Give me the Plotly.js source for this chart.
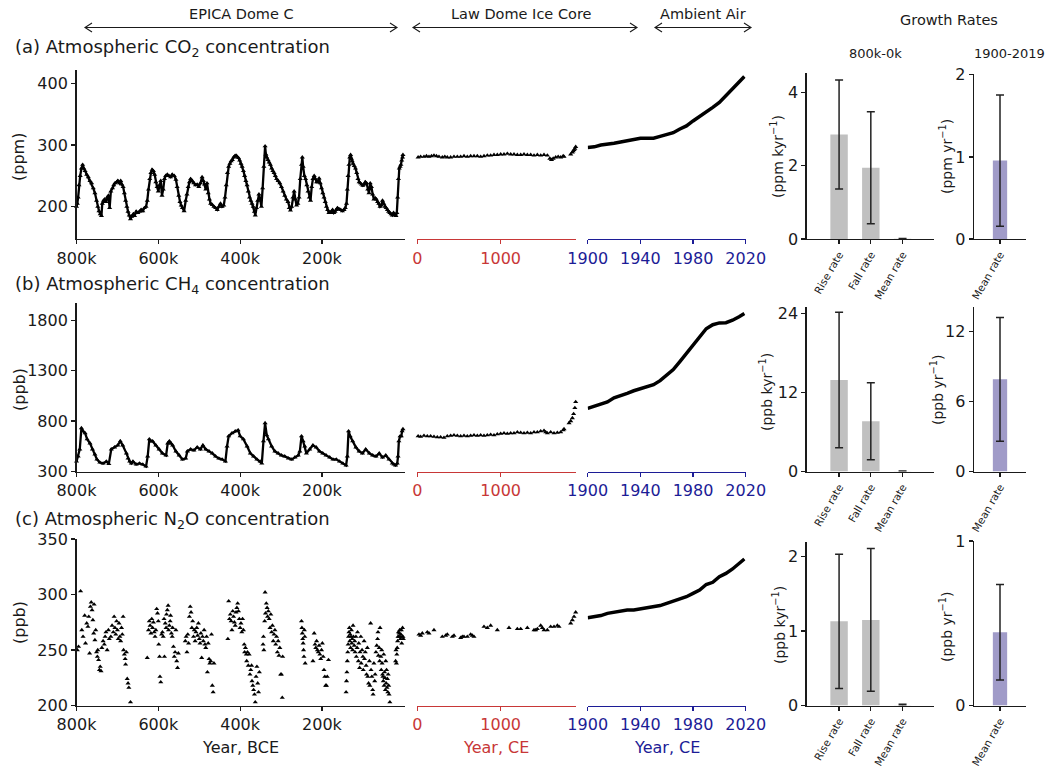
<!DOCTYPE html>
<html><head><meta charset="utf-8">
<script src="https://cdn.plot.ly/plotly-3.0.1.min.js"></script>
<style>html,body{margin:0;padding:0;background:#fff}#chart{width:1047px;height:769px}</style>
</head><body><div id="chart"></div>
<script>
// ---------------- DATA ----------------
// EPICA Dome C CO2 (kyr before present, ppm)
const co2EpicaKyr = [800,798,796,794,791,788,785,782,779,775,771,767,763,759,755,751,748,745,742,739,
737,734,731,728,725,722,719,716,712,709,706,702,699,695,692,689,686,683,680,677,
674,671,668,665,661,658,654,650,646,642,638,634,630,627,624,621,618,615,612,609,
606,603,600,597,594,591,588,585,582,578,574,570,566,561,557,554,550,547,544,541,
537,533,530,527,524,521,517,513,509,505,501,497,493,490,487,484,481,478,475,472,
468,464,460,456,452,448,444,440,437,434,431,428,425,422,419,416,413,410,407,404,
401,398,395,392,389,386,383,380,377,374,371,368,365,363,360,357,354,351,348,345,
342,339,337,335,332,329,326,323,320,317,314,311,307,303,299,295,291,287,283,280,
277,274,271,268,265,262,259,256,253,250,248,246,243,240,237,234,231,228,225,222,
219,216,213,210,207,204,201,198,195,192,189,186,183,180,177,174,171,168,165,162,
158,154,150,146,143,140,138,136,134,132,130,128,126,124,121,118,115,112,109,106,
103,100,97,94,91,88,85,82,79,76,73,70,67,64,61,58,55,52,49,46,
43,40,37,34,31,28,25,22,19,17,15,13,11,9,7,5,3,2];
const co2EpicaPpm = [200,205,215,235,250,262,268,262,258,252,248,242,238,230,222,210,200,193,188,185,
205,210,212,208,215,218,198,225,230,235,238,240,242,238,242,236,232,222,210,200,
192,186,180,184,188,185,192,190,192,195,193,198,200,210,228,245,255,260,258,252,
240,232,225,235,242,218,228,245,250,252,250,248,252,250,244,232,218,208,202,198,
193,210,220,232,240,245,242,238,235,236,232,238,248,242,236,228,238,222,212,205,
203,200,198,195,200,205,200,202,215,235,255,265,270,274,276,280,282,283,281,279,
275,270,265,258,250,242,235,225,215,210,205,200,192,186,198,210,220,212,200,230,
265,298,285,280,276,272,268,262,258,255,250,245,242,238,232,225,218,212,208,198,
194,200,215,225,212,202,205,215,245,268,280,265,250,245,235,225,215,210,232,245,
250,245,240,240,246,238,230,222,215,208,200,195,190,190,192,195,190,192,195,198,
196,195,193,195,198,205,228,250,268,280,284,278,274,270,266,262,255,245,240,238,
236,234,236,240,238,228,222,238,232,220,212,214,212,208,205,200,202,210,205,200,
198,195,192,190,188,186,190,187,185,190,215,245,262,265,268,275,280,284];

// EPICA Dome C CH4 (kyr, ppb)
const ch4EpicaKyr = [800,796,792,788,784,779,774,767,761,755,750,743,735,727,721,715,707,699,693,687,
678,674,670,666,662,654,646,638,630,626,622,618,614,606,598,590,581,577,573,569,
565,557,549,541,533,529,521,513,505,497,491,484,476,468,460,452,444,436,432,428,
420,412,405,400,392,383,375,367,359,351,347,343,339,335,331,323,315,307,299,291,
282,274,266,258,254,250,246,242,238,230,222,214,206,198,190,181,173,165,157,149,
141,138,135,131,125,117,109,101,93,84,76,68,60,52,44,36,28,24,20,16,
14,12,9,6,4,2];
const ch4EpicaPpb = [400,450,520,730,700,680,620,580,520,470,420,390,380,400,375,520,540,560,600,560,
480,430,400,380,400,370,380,370,350,450,620,600,600,560,520,480,460,580,600,580,
560,500,460,420,430,500,520,510,540,520,560,520,500,480,450,430,420,400,550,650,
680,700,710,650,620,550,480,450,420,400,380,600,780,660,620,550,500,480,460,450,
430,420,440,460,500,650,600,550,480,520,560,540,500,480,460,440,420,420,400,380,
360,450,700,650,600,540,500,480,520,480,460,450,480,440,460,420,380,370,360,380,
450,600,650,650,700,720];

// EPICA Dome C N2O (kyr, ppb)
const n2oEpicaKyr = [798,795,790,787,784,780,778,775,772,770,768,766,764,762,760,758,757,755,753,751,749,748,746,744,742,740,
738,735,732,730,728,725,722,720,716,713,710,708,706,704,702,700,698,696,694,692,690,688,686,685,683,681,680,678,676,674,672,668,
627,624,622,620,618,616,614,612,610,608,606,604,602,600,599,597,596,594,592,590,588,586,585,583,581,580,578,576,575,573,571,570,568,566,565,563,561,559,557,555,553,551,
534,532,530,528,526,524,522,520,518,516,514,512,510,508,506,504,502,500,498,496,494,492,490,488,486,484,482,480,478,476,474,472,470,468,466,464,
430,428,426,424,422,420,418,416,414,412,410,408,406,404,402,400,398,396,394,392,390,389,387,385,384,382,380,378,376,374,372,371,369,367,365,363,361,359,357,355,353,
344,343,342,340,339,338,336,334,333,331,329,327,325,323,321,319,317,315,313,311,309,307,305,303,301,299,297,296,
250,249,248,247,246,245,244,243,242,241,
222,219,217,215,213,211,209,207,205,203,201,199,197,195,193,191,189,187,184,
141,140,139,138,137,136,135,134,133,132,131,130,129,128,127,126,125,124,123,121,120,119,117,116,114,113,111,110,108,107,105,104,102,100,99,97,96,94,92,91,89,88,86,84,83,81,80,
78,76,75,73,71,70,68,66,64,63,62,60,59,58,56,55,54,53,52,51,50,49,48,47,46,45,44,43,42,41,40,39,38,37,36,34,
20,19,18,17,16,15,14,13,12,11,10,9,8,7,6,5,4,3,2,1];
const n2oEpicaPpb = [250,253,303,268,262,281,256,274,271,280,247,289,293,286,277,265,291,259,268,248,244,250,241,232,235,231,
252,258,255,262,266,250,268,260,262,272,266,280,270,264,276,268,260,274,262,258,270,264,280,250,246,242,237,248,224,220,216,203,
243,268,276,272,265,278,270,275,266,262,268,287,283,276,255,244,226,221,264,266,262,278,244,274,270,282,286,290,268,272,276,281,265,262,270,253,244,248,268,240,234,247,
258,262,248,264,256,280,289,284,270,276,262,268,258,266,270,263,274,260,256,265,243,262,258,268,255,252,262,230,256,242,238,240,264,218,212,238,
260,294,278,282,276,268,285,280,275,272,284,288,292,285,278,270,274,266,278,268,255,248,252,246,240,248,236,246,228,232,236,222,218,214,210,203,226,235,220,212,230,
255,262,250,276,302,283,292,288,280,285,278,270,282,266,272,258,264,268,255,262,248,258,245,252,228,228,207,244,
276,270,265,260,256,250,244,268,262,238,
240,265,255,252,258,250,248,254,246,242,250,256,244,232,226,218,218,226,241,
212,222,230,240,248,255,262,266,270,258,264,252,262,268,256,260,250,272,262,254,258,248,262,244,252,266,240,256,234,248,262,238,250,244,232,258,242,248,236,228,252,226,220,240,218,274,232,
226,214,210,238,222,228,248,254,260,266,245,252,240,270,244,232,250,238,228,226,222,246,218,230,225,214,240,220,232,216,224,212,228,218,210,203,
240,250,238,246,252,258,262,266,262,265,268,262,260,264,268,256,262,270,262,260];

// Law Dome ice core (year CE)
const co2LawYear = [10,40,80,110,140,170,200,230,260,300,330,360,400,440,480,520,560,600,640,680,720,760,800,840,880,920,960,1000,1040,1080,1120,1160,1200,1240,1280,1320,1360,1400,1440,1480,1520,1560,1590,1610,1630,1660,1690,1720,1750,1760,1840,1860,1870,1880,1890,1900];
const co2LawPpm = [280,281,281,282,281,282,283,282,281,280,281,280,280,281,281,281,282,281,282,282,282,281,282,283,283,284,284,285,285,286,285,285,284,284,285,284,284,283,284,283,284,283,278,276,278,280,281,280,282,281,285,288,290,292,294,297];
const ch4LawYear = [10,40,80,120,160,200,240,280,320,360,400,440,480,520,560,600,640,680,720,760,800,840,880,920,960,1000,1040,1080,1120,1160,1200,1240,1280,1320,1360,1400,1440,1480,1520,1540,1560,1600,1640,1680,1720,1750,1760,1820,1840,1860,1875,1890,1900];
const ch4LawPpb = [650,645,655,650,650,645,640,640,635,650,655,660,655,650,655,650,655,660,655,660,655,660,665,660,670,675,680,675,680,680,690,685,680,685,680,690,690,700,705,690,680,690,680,685,690,710,720,780,800,830,870,930,990];
const n2oLawYear = [20,40,60,120,140,200,300,340,360,420,440,520,540,560,600,640,660,680,800,840,880,960,1100,1200,1240,1320,1400,1420,1440,1480,1500,1520,1560,1600,1640,1680,1700,1840,1860,1880,1900];
const n2oLawPpb = [264,263,265,266,265,268,262,263,264,262,263,261,262,262,262,264,263,262,271,270,272,268,270,269,269,270,268,268,269,272,270,268,268,271,271,272,271,274,277,280,284];

// Ambient air (year CE)
const ambYear = [1900,1905,1910,1915,1920,1925,1930,1935,1940,1945,1950,1955,1960,1965,1970,1975,1980,1985,1990,1995,2000,2005,2010,2015,2019];
const co2Amb = [296,297,300,301,303,305,307,309,311,311,311,314,317,320,326,331,339,346,354,361,369,380,390,401,411];
const ch4Amb = [925,945,965,990,1030,1050,1075,1100,1120,1140,1160,1200,1250,1310,1390,1470,1560,1640,1715,1755,1773,1775,1799,1834,1866];
const n2oAmb = [279,280,281,283,284,285,286,286,287,288,289,290,292,294,296,298,301,304,309,311,316,319,323,328,332];

// Growth rates
const rateCats800 = ['Rise rate','Fall rate','Mean rate'];
const rateCats1900 = ['Mean rate'];
const co2Rate800 = [2.86, 1.95, 0.005];
const co2Err800 = [1.49, 1.53, 0.012];
const co2Rate1900 = [0.955];
const co2Err1900 = [0.80];
const ch4Rate800 = [13.9, 7.65, 0.03];
const ch4Err800 = [10.3, 5.85, 0.05];
const ch4Rate1900 = [7.9];
const ch4Err1900 = [5.3];
const n2oRate800 = [1.13, 1.15, 0.005];
const n2oErr800 = [0.90, 0.96, 0.012];
const n2oRate1900 = [0.445];
const n2oErr1900 = [0.29];

// Tick labels
const epicaTickVals = [800,600,400,200];
const epicaTickText = ['800k','600k','400k','200k'];
const lawTickVals = [0,1000];
const ambTickVals = [1900,1940,1980,2020];
const co2Ticks = [200,300,400];
const ch4Ticks = [300,800,1300,1800];
const n2oTicks = [200,250,300,350];
const co2Bar800Ticks = [0,2,4], co2Bar1900Ticks = [0,1,2];
const ch4Bar800Ticks = [0,12,24], ch4Bar1900Ticks = [0,6,12];
const n2oBar800Ticks = [0,1,2], n2oBar1900Ticks = [0,1];

// ---------------- LAYOUT ----------------
const W = 1047, H = 769;
const FONT = 'DejaVu Sans, sans-serif';
const INK = '#1a1a1a', RED = '#c83737', BLUE = '#1c1c96';
const GRAY = '#c0c0c0', PURPLE = '#a09bc8';
const px = v => v / W, py = v => 1 - v / H;

const cols = [
  {x0: 76.5, x1: 405},   // EPICA
  {x0: 417.3, x1: 575.7},// Law Dome
  {x0: 587.7, x1: 745.7},// Ambient
  {x0: 806.7, x1: 934.3},// bars 800k
  {x0: 974, x1: 1026}    // bars 1900-2019
];
const rows = [
  {top: 70, bot: 239, b1top: 73, b2top: 74, yr: [147.6, 421.6], yt: co2Ticks,
   b1r: [0, 4.54], b1t: co2Bar800Ticks, b2r: [0, 2.01], b2t: co2Bar1900Ticks,
   epX: co2EpicaKyr, epY: co2EpicaPpm, lawX: co2LawYear, lawY: co2LawPpm, amb: co2Amb,
   r8: co2Rate800, e8: co2Err800, r19: co2Rate1900, e19: co2Err1900, epMode: 'lines+markers'},
  {top: 303, bot: 471.5, b1top: 307, b2top: 307, yr: [300, 1970], yt: ch4Ticks,
   b1r: [0, 25.0], b1t: ch4Bar800Ticks, b2r: [0, 14.1], b2t: ch4Bar1900Ticks,
   epX: ch4EpicaKyr, epY: ch4EpicaPpb, lawX: ch4LawYear, lawY: ch4LawPpb, amb: ch4Amb,
   r8: ch4Rate800, e8: ch4Err800, r19: ch4Rate1900, e19: ch4Err1900, epMode: 'lines+markers'},
  {top: 539, bot: 705.5, b1top: 541.7, b2top: 541, yr: [200, 350], yt: n2oTicks,
   b1r: [0, 2.2], b1t: n2oBar800Ticks, b2r: [0, 1.0], b2t: n2oBar1900Ticks,
   epX: n2oEpicaKyr, epY: n2oEpicaPpb, lawX: n2oLawYear, lawY: n2oLawPpb, amb: n2oAmb,
   r8: n2oRate800, e8: n2oErr800, r19: n2oRate1900, e19: n2oErr1900, epMode: 'markers'}
];

function baseAxis(extra) {
  return Object.assign({
    showgrid: false, zeroline: false, showline: true, linecolor: INK, linewidth: 1.4,
    ticks: 'outside', ticklen: 4, tickwidth: 1.2, tickcolor: INK,
    tickfont: {family: FONT, size: 16, color: INK}, fixedrange: true
  }, extra);
}

const layout = {
  width: W, height: H, margin: {l: 0, r: 0, t: 0, b: 0},
  paper_bgcolor: '#fff', plot_bgcolor: 'rgba(0,0,0,0)', showlegend: false,
  font: {family: FONT, color: INK}, annotations: [], shapes: []
};
const traces = [];
const tri = {symbol: 'triangle-up', size: 4, color: '#000'};
const errStyle = arr => ({type: 'data', array: arr, visible: true, color: '#222', thickness: 1.5, width: 4});
const barTickFont = {family: FONT, size: 10.5, color: INK};

rows.forEach((r, ri) => {
  for (let c = 0; c < 5; c++) {
    const idx = ri * 5 + c + 1;
    const xn = idx === 1 ? 'xaxis' : 'xaxis' + idx;
    const yn = idx === 1 ? 'yaxis' : 'yaxis' + idx;
    const xr = idx === 1 ? 'x' : 'x' + idx;
    const yrf = idx === 1 ? 'y' : 'y' + idx;
    const col = cols[c];
    let top = r.top;
    if (c === 3) top = r.b1top;
    if (c === 4) top = r.b2top;
    const xdom = [px(col.x0), px(col.x1)];
    const ydom = [py(r.bot), py(top)];
    if (c === 0) {
      layout[xn] = baseAxis({domain: xdom, anchor: yrf, range: [800, -3], tickvals: epicaTickVals, ticktext: epicaTickText});
      layout[yn] = baseAxis({domain: ydom, anchor: xr, range: r.yr, tickvals: r.yt});
      traces.push({type: 'scatter', mode: r.epMode, x: r.epX, y: r.epY, xaxis: xr, yaxis: yrf,
        marker: Object.assign({}, tri, {size: 4.5}), line: {color: '#000', width: 2.3}, cliponaxis: false});
    } else if (c === 1) {
      layout[xn] = baseAxis({domain: xdom, anchor: yrf, range: [0, 1900], tickvals: lawTickVals,
        linecolor: RED, tickcolor: RED, tickfont: {family: FONT, size: 16, color: RED}});
      layout[yn] = {domain: ydom, anchor: xr, range: r.yr, visible: false, fixedrange: true};
      traces.push({type: 'scatter', mode: 'markers', x: r.lawX, y: r.lawY, xaxis: xr, yaxis: yrf,
        marker: Object.assign({}, tri, {size: 4.5}), cliponaxis: false});
    } else if (c === 2) {
      layout[xn] = baseAxis({domain: xdom, anchor: yrf, range: [1900, 2020], tickvals: ambTickVals,
        linecolor: BLUE, tickcolor: BLUE, tickfont: {family: FONT, size: 16, color: BLUE}});
      layout[yn] = {domain: ydom, anchor: xr, range: r.yr, visible: false, fixedrange: true};
      traces.push({type: 'scatter', mode: 'lines', x: ambYear, y: r.amb, xaxis: xr, yaxis: yrf,
        line: {color: '#000', width: 3.5}, cliponaxis: false});
    } else if (c === 3) {
      layout[xn] = baseAxis({domain: xdom, anchor: yrf, type: 'category', range: [-1.02, 3.0],
        tickangle: -60, tickfont: barTickFont});
      layout[yn] = baseAxis({domain: ydom, anchor: xr, range: r.b1r, tickvals: r.b1t});
      traces.push({type: 'bar', x: rateCats800, y: r.r8, xaxis: xr, yaxis: yrf, width: 0.55,
        marker: {color: GRAY, line: {width: 0}}, error_y: errStyle(r.e8)});
    } else {
      layout[xn] = baseAxis({domain: xdom, anchor: yrf, type: 'category', range: [-1, 1],
        tickangle: -60, tickfont: barTickFont});
      layout[yn] = baseAxis({domain: ydom, anchor: xr, range: r.b2r, tickvals: r.b2t});
      traces.push({type: 'bar', x: rateCats1900, y: r.r19, xaxis: xr, yaxis: yrf, width: 0.55,
        marker: {color: PURPLE, line: {width: 0}}, error_y: errStyle(r.e19)});
    }
  }
});

function txt(text, x, y, opts) {
  layout.annotations.push(Object.assign({
    text: text, xref: 'paper', yref: 'paper', x: px(x), y: py(y), showarrow: false,
    xanchor: 'center', yanchor: 'middle', font: {family: FONT, size: 16, color: INK}
  }, opts || {}));
}
function dblArrow(x0, x1, y) {
  const ln = {color: INK, width: 1.1};
  layout.shapes.push({type: 'line', xref: 'paper', yref: 'paper', x0: px(x0), x1: px(x1), y0: py(y), y1: py(y), line: ln});
  const hl = 7, hh = 4.5;
  layout.shapes.push({type: 'path', xref: 'paper', yref: 'paper', line: ln,
    path: `M${px(x0 + hl)},${py(y - hh)} L${px(x0)},${py(y)} L${px(x0 + hl)},${py(y + hh)}`});
  layout.shapes.push({type: 'path', xref: 'paper', yref: 'paper', line: ln,
    path: `M${px(x1 - hl)},${py(y - hh)} L${px(x1)},${py(y)} L${px(x1 - hl)},${py(y + hh)}`});
}

// panel titles
const s18 = {family: FONT, size: 18, color: INK};
txt('(a) Atmospheric CO<sub>2</sub> concentration', 13, 48, {xanchor: 'left', font: s18});
txt('(b) Atmospheric CH<sub>4</sub> concentration', 13, 285, {xanchor: 'left', font: s18});
txt('(c) Atmospheric N<sub>2</sub>O concentration', 13, 520, {xanchor: 'left', font: s18});

// y titles
txt('(ppm)', 19, 157, {textangle: -90});
txt('(ppb)', 19, 390, {textangle: -90});
txt('(ppb)', 19, 623, {textangle: -90});
const s14 = {family: FONT, size: 14, color: INK};
txt('(ppm kyr<sup>−1</sup>)', 777, 157, {textangle: -90, font: s14});
txt('(ppb kyr<sup>−1</sup>)', 766, 392, {textangle: -90, font: s14});
txt('(ppb kyr<sup>−1</sup>)', 779, 625, {textangle: -90, font: s14});
txt('(ppm yr<sup>−1</sup>)', 946, 157, {textangle: -90, font: s14});
txt('(ppb yr<sup>−1</sup>)', 937, 390, {textangle: -90, font: s14});
txt('(ppb yr<sup>−1</sup>)', 946, 627, {textangle: -90, font: s14});

// x titles
txt('Year, BCE', 240, 747);
txt('Year, CE', 496, 747, {font: {family: FONT, size: 16, color: RED}});
txt('Year, CE', 667, 747, {font: {family: FONT, size: 16, color: BLUE}});

// top labels
const s145 = {family: FONT, size: 14.5, color: INK};
txt('EPICA Dome C', 241, 14, {font: s145});
txt('Law Dome Ice Core', 521, 14, {font: s145});
txt('Ambient Air', 703, 14, {font: s145});
txt('Growth Rates', 949, 20, {font: s145});
txt('800k-0k', 875, 53, {font: {family: FONT, size: 13, color: INK}});
txt('1900-2019', 1009, 53, {font: {family: FONT, size: 13, color: INK}});
dblArrow(85, 397, 27.5);
dblArrow(413, 637, 27.5);
dblArrow(655, 751, 27.5);

Plotly.newPlot('chart', traces, layout, {staticPlot: true, displayModeBar: false});
</script></body></html>
